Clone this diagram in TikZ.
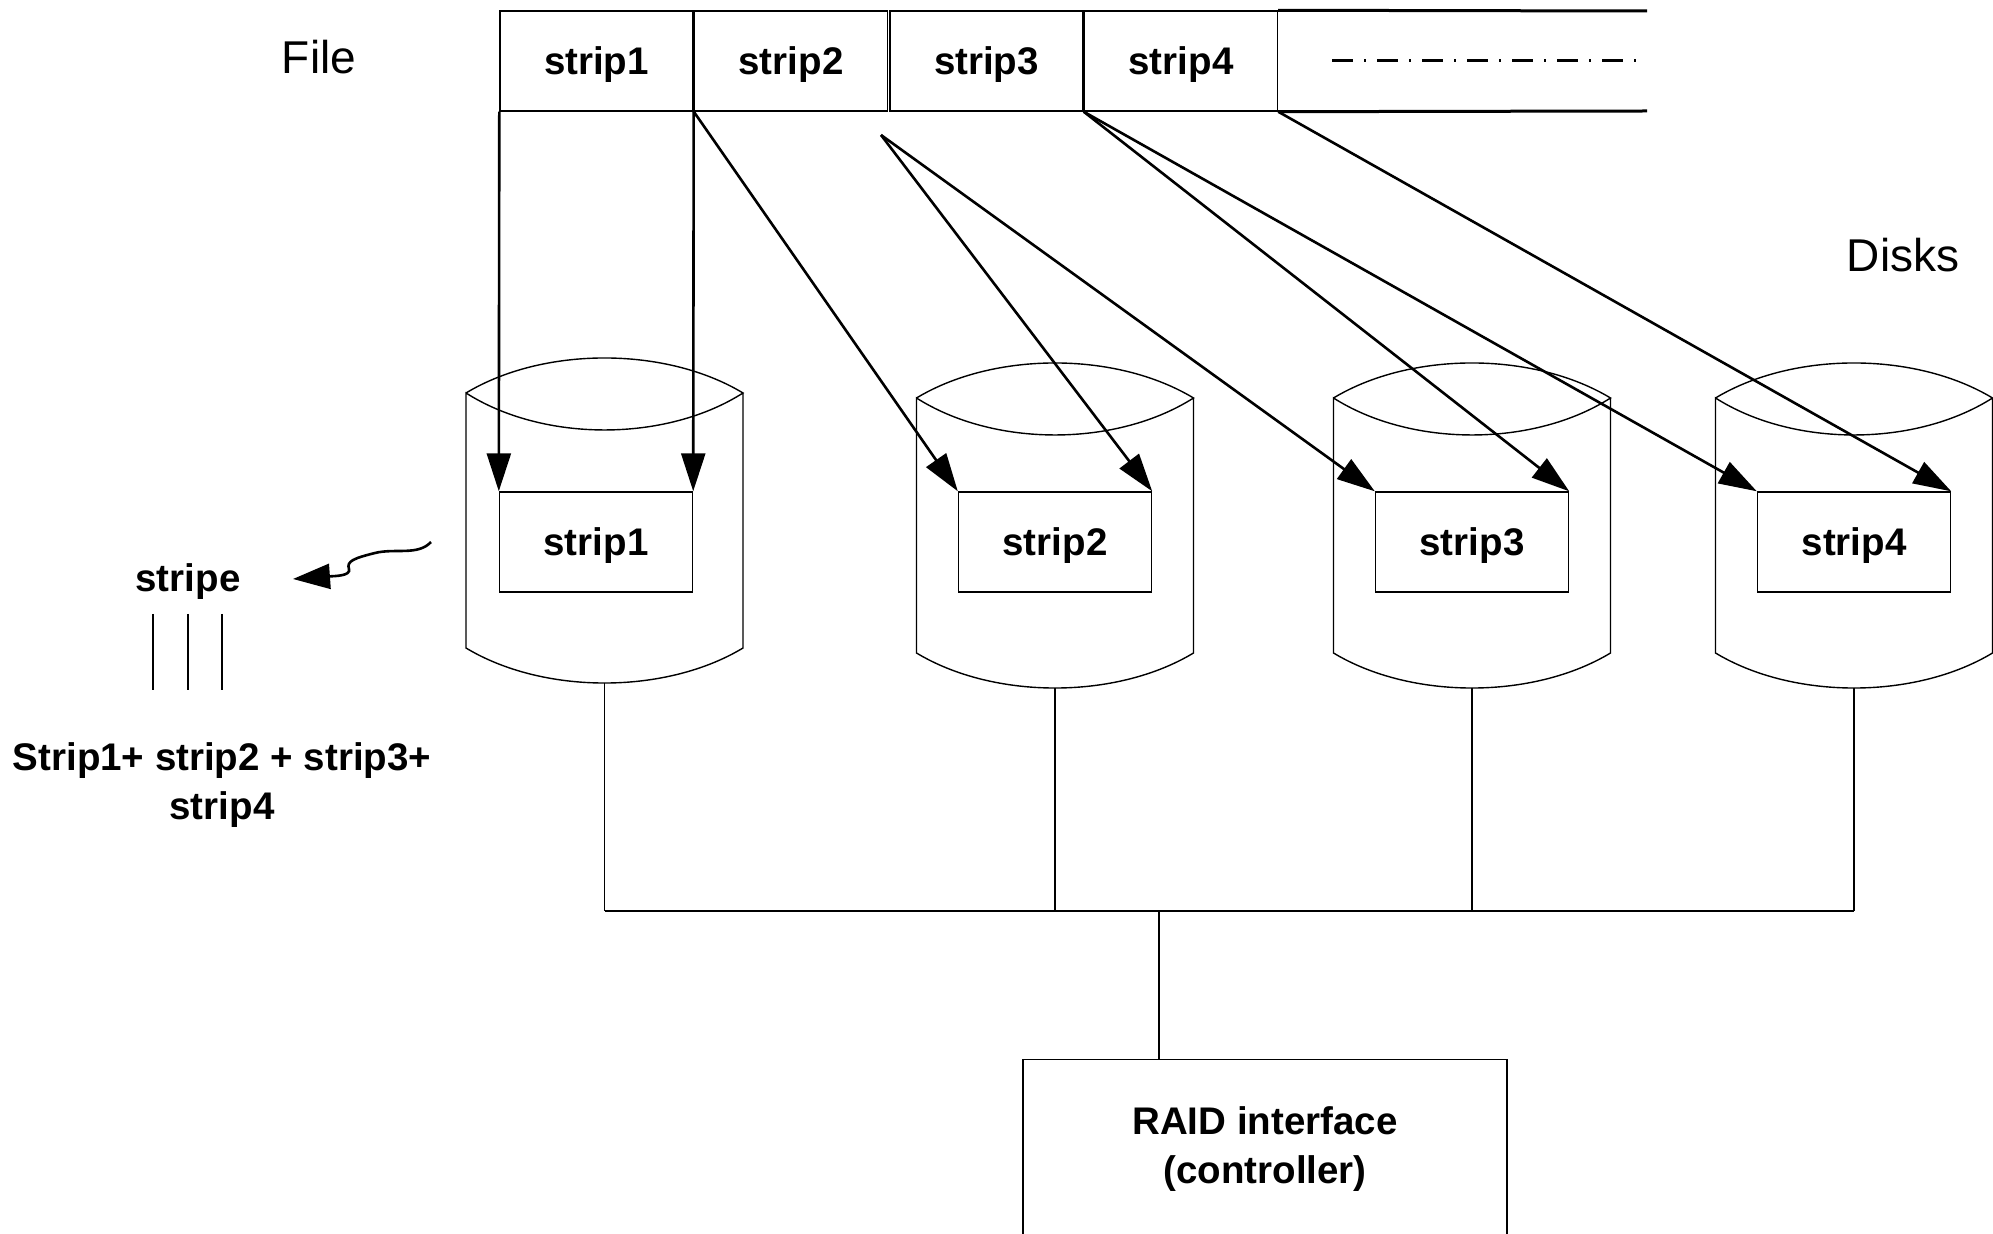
\documentclass[tikz,border=0pt]{standalone}
\usepackage{fontspec}
\setmainfont{Liberation Sans}
\usetikzlibrary{arrows.meta}
\begin{document}
\begin{tikzpicture}[x=0.5pt,y=-0.5pt,
  thinline/.style={line width=0.7pt},
  box/.style={draw, line width=0.7pt, minimum width=96.5pt, minimum height=50pt, inner sep=0pt,
    text height=17pt, text depth=3pt,
    font=\fontsize{19.25}{23}\selectfont\bfseries},
  arr/.style={line width=1.3pt, -{Triangle[length=19pt,width=12pt]}},
  lbl/.style={font=\fontsize{23}{27}\selectfont, inner sep=0pt},
  blbl/.style={font=\fontsize{19.25}{24.5}\selectfont\bfseries, align=center, inner sep=0pt},
  dashdot/.style={line width=1.5pt, dash pattern=on 10.5pt off 5.5pt on 1pt off 5.5pt}]
\clip (0,0) rectangle (1993,1234);
\fill[white] (0,0) rectangle (1993,1234);

% file strips
\node[box] (s1) at (596.5,61) {strip1};
\node[box] (s2) at (791,61) {strip2};
\node[box] (s3) at (986.5,61) {strip3};
\node[box] (s4) at (1181,61) {strip4};
\coordinate (tailtop) at (1647,11);
\coordinate (tailbot) at (1647,111);
\draw[line width=1.5pt] (s4.north east) -- (tailtop);
\draw[line width=1.5pt] (s4.south east) -- (tailbot);
\coordinate (ddA) at (1332,61);
\coordinate (ddB) at (1640,61);
\draw[dashdot] (ddA) -- (ddB);

\node[lbl] (file) at (319,57) {File};
\node[lbl] (disks) at (1903,255) {Disks};

% disks
\foreach \cx/\yt/\nm in {604.5/393/1, 1055/398/2, 1472/398/3, 1854/398/4}{
  \draw[thinline]
    ({\cx-138.5},\yt) .. controls ({\cx-61},{\yt-46.7}) and ({\cx+61},{\yt-46.7}) .. ({\cx+138.5},\yt)
    .. controls ({\cx+61},{\yt+49.3}) and ({\cx-61},{\yt+49.3}) .. ({\cx-138.5},\yt)
    -- ({\cx-138.5},{\yt+255})
    .. controls ({\cx-61},{\yt+301.7}) and ({\cx+61},{\yt+301.7}) .. ({\cx+138.5},{\yt+255})
    -- ({\cx+138.5},\yt);
  \coordinate (db\nm) at (\cx,{\yt+290});
}

% strips on disks
\node[box] (i1) at (596,542) {strip1};
\node[box] (i2) at (1055,542) {strip2};
\node[box] (i3) at (1472,542) {strip3};
\node[box] (i4) at (1854,542) {strip4};

% mapping arrows
\coordinate (s2b) at (881,135);
\draw[arr] (s1.south west) -- (i1.north west);
\draw[arr] (s1.south east) -- (i1.north east);
\draw[arr] (s2.south west) -- (i2.north west);
\draw[arr] (s2b) -- (i2.north east);
\draw[arr] (s2b) -- (i3.north west);
\draw[arr] (s3.south east) -- (i3.north east);
\draw[arr] (s3.south east) -- (i4.north west);
\draw[arr] (s4.south east) -- (i4.north east);

% bus
\coordinate (busL) at (604.5,911);
\coordinate (busR) at (1854,911);
\coordinate (busC) at (1159,911);
\draw[thinline] (db1) -- (db1 |- busL);
\draw[thinline] (db2) -- (db2 |- busL);
\draw[thinline] (db3) -- (db3 |- busL);
\draw[thinline] (db4) -- (db4 |- busL);
\draw[thinline] (busL) -- (busR);
\draw[line width=1.1pt] (db2 |- busL) -- (db3 |- busL);

% controller
\node[draw, thinline, minimum width=242pt, minimum height=100pt, inner sep=0pt, anchor=north] (raid) at (1265,1059) {};
\node[blbl] (raidtxt) at (1265,1149) {RAID interface\\(controller)};
\draw[thinline] (busC) -- (busC |- raid.north);
\draw[line width=1.1pt] (busC) -- ++(0,60);

% stripe annotation
\node[blbl] (stripe) at (188,582) {stripe};
\coordinate (wavS) at (431,542);
\coordinate (wavE) at (293,579);
\draw[line width=1.3pt, -{Triangle[length=18.5pt,width=12.5pt]}]
  (wavS) .. controls (418,556) and (395,548) .. (375,553)
  .. controls (355,558) and (346,561) .. (349,569)
  .. controls (351,576) and (335,576) .. (wavE);
\draw[line width=1pt] (153,614) -- (153,690);
\draw[line width=1pt] (188,614) -- (188,690);
\draw[line width=1pt] (222,614) -- (222,690);
\node[blbl] (sum) at (222,785) {Strip1+ strip2 + strip3+\\strip4};
\end{tikzpicture}
\end{document}
